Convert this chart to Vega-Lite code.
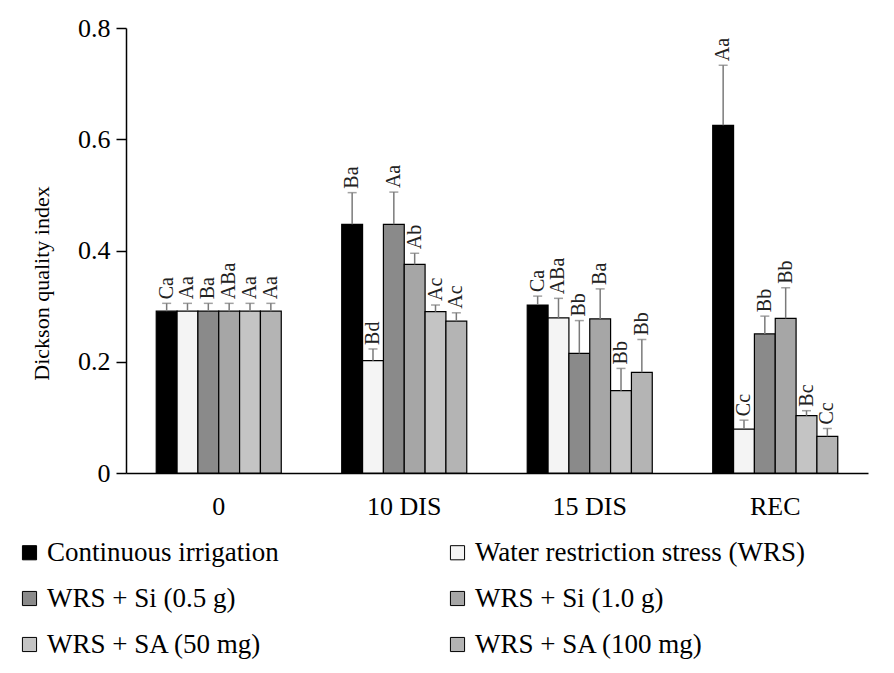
{
  "$schema": "https://vega.github.io/schema/vega-lite/v6.json",
  "width": 742,
  "height": 445,
  "autosize": "none",
  "padding": {"left": 126, "top": 28, "right": 26, "bottom": 200},
  "background": "white",
  "config": {
    "view": {"stroke": null},
    "font": "Liberation Serif",
    "axis": {"grid": false, "domainColor": "black", "tickColor": "black", "labelColor": "black", "titleColor": "black", "labelFont": "Liberation Serif", "titleFont": "Liberation Serif"},
    "legend": {"labelFont": "Liberation Serif"}
  },
  "data": {"values": [
    {"time": "0", "treatment": "Continuous irrigation", "mean": 0.291, "upper": 0.305, "letter": "Ca"},
    {"time": "0", "treatment": "Water restriction stress (WRS)", "mean": 0.291, "upper": 0.305, "letter": "Aa"},
    {"time": "0", "treatment": "WRS + Si (0.5 g)", "mean": 0.291, "upper": 0.305, "letter": "Ba"},
    {"time": "0", "treatment": "WRS + Si (1.0 g)", "mean": 0.291, "upper": 0.305, "letter": "ABa"},
    {"time": "0", "treatment": "WRS + SA (50 mg)", "mean": 0.291, "upper": 0.305, "letter": "Aa"},
    {"time": "0", "treatment": "WRS + SA (100 mg)", "mean": 0.291, "upper": 0.305, "letter": "Aa"},
    {"time": "10 DIS", "treatment": "Continuous irrigation", "mean": 0.447, "upper": 0.504, "letter": "Ba"},
    {"time": "10 DIS", "treatment": "Water restriction stress (WRS)", "mean": 0.202, "upper": 0.223, "letter": "Bd"},
    {"time": "10 DIS", "treatment": "WRS + Si (0.5 g)", "mean": 0.447, "upper": 0.505, "letter": "Aa"},
    {"time": "10 DIS", "treatment": "WRS + Si (1.0 g)", "mean": 0.375, "upper": 0.395, "letter": "Ab"},
    {"time": "10 DIS", "treatment": "WRS + SA (50 mg)", "mean": 0.290, "upper": 0.302, "letter": "Ac"},
    {"time": "10 DIS", "treatment": "WRS + SA (100 mg)", "mean": 0.273, "upper": 0.288, "letter": "Ac"},
    {"time": "15 DIS", "treatment": "Continuous irrigation", "mean": 0.302, "upper": 0.318, "letter": "Ca"},
    {"time": "15 DIS", "treatment": "Water restriction stress (WRS)", "mean": 0.279, "upper": 0.314, "letter": "ABa"},
    {"time": "15 DIS", "treatment": "WRS + Si (0.5 g)", "mean": 0.215, "upper": 0.274, "letter": "Bb"},
    {"time": "15 DIS", "treatment": "WRS + Si (1.0 g)", "mean": 0.277, "upper": 0.331, "letter": "Ba"},
    {"time": "15 DIS", "treatment": "WRS + SA (50 mg)", "mean": 0.148, "upper": 0.188, "letter": "Bb"},
    {"time": "15 DIS", "treatment": "WRS + SA (100 mg)", "mean": 0.181, "upper": 0.240, "letter": "Bb"},
    {"time": "REC", "treatment": "Continuous irrigation", "mean": 0.625, "upper": 0.733, "letter": "Aa"},
    {"time": "REC", "treatment": "Water restriction stress (WRS)", "mean": 0.079, "upper": 0.095, "letter": "Cc"},
    {"time": "REC", "treatment": "WRS + Si (0.5 g)", "mean": 0.250, "upper": 0.282, "letter": "Bb"},
    {"time": "REC", "treatment": "WRS + Si (1.0 g)", "mean": 0.278, "upper": 0.333, "letter": "Bb"},
    {"time": "REC", "treatment": "WRS + SA (50 mg)", "mean": 0.103, "upper": 0.112, "letter": "Bc"},
    {"time": "REC", "treatment": "WRS + SA (100 mg)", "mean": 0.066, "upper": 0.080, "letter": "Cc"}
  ]},
  "encoding": {
    "x": {"field": "time", "type": "nominal", "sort": ["0", "10 DIS", "15 DIS", "REC"],
      "scale": {"paddingInner": 0.326, "paddingOuter": 0.163},
      "axis": {"title": null, "labelAngle": 0, "ticks": false, "labelPadding": 20, "labelFontSize": 26, "domainWidth": 1.5}},
    "xOffset": {"field": "treatment", "type": "nominal",
      "sort": ["Continuous irrigation", "Water restriction stress (WRS)", "WRS + Si (0.5 g)", "WRS + Si (1.0 g)", "WRS + SA (50 mg)", "WRS + SA (100 mg)"],
      "scale": {"paddingInner": 0, "paddingOuter": 0}}
  },
  "layer": [
    {
      "mark": {"type": "bar", "stroke": "black", "strokeWidth": 1.2},
      "encoding": {
        "y": {"field": "mean", "type": "quantitative",
          "scale": {"domain": [0, 0.8], "nice": false},
          "axis": {"title": "Dickson quality index", "titleFontSize": 22, "titleFontWeight": "normal", "titleAngle": 270, "titleAlign": "center", "titleBaseline": "middle", "titleX": -85, "titleY": 255,
            "values": [0, 0.2, 0.4, 0.6, 0.8], "labelExpr": "datum.value == 0 ? '0' : format(datum.value, '.1f')", "labelFontSize": 26, "tickSize": 10, "labelPadding": 6, "domainWidth": 1.5, "tickWidth": 1.5}},
        "fill": {"field": "treatment", "type": "nominal",
          "sort": ["Continuous irrigation", "Water restriction stress (WRS)", "WRS + Si (0.5 g)", "WRS + Si (1.0 g)", "WRS + SA (50 mg)", "WRS + SA (100 mg)"],
          "scale": {"range": ["#000000", "#f4f4f4", "#8a8a8a", "#a6a6a6", "#c4c4c4", "#b4b4b4"]},
          "legend": {"title": null, "orient": "none", "legendX": -110, "legendY": 511, "columns": 2, "direction": "horizontal",
            "symbolType": "square", "symbolSize": 200, "symbolStrokeColor": "black", "symbolStrokeWidth": 1, "symbolOpacity": 1,
            "labelFont": "Liberation Serif", "labelFontSize": 27, "labelColor": "black", "labelLimit": 500, "labelOffset": 4, "columnPadding": 165, "rowPadding": 18}}
      }
    },
    {
      "mark": {"type": "rule", "color": "#7a7a7a", "strokeWidth": 1.5},
      "encoding": {"y": {"field": "mean", "type": "quantitative"}, "y2": {"field": "upper"}}
    },
    {
      "mark": {"type": "tick", "color": "#7a7a7a", "thickness": 1.5, "size": 9, "orient": "horizontal"},
      "encoding": {"y": {"field": "upper", "type": "quantitative"}}
    },
    {
      "mark": {"type": "text", "angle": 270, "align": "left", "baseline": "middle", "dx": 4, "fontSize": 20, "color": "#222"},
      "encoding": {"y": {"field": "upper", "type": "quantitative"}, "text": {"field": "letter"}}
    }
  ]
}
